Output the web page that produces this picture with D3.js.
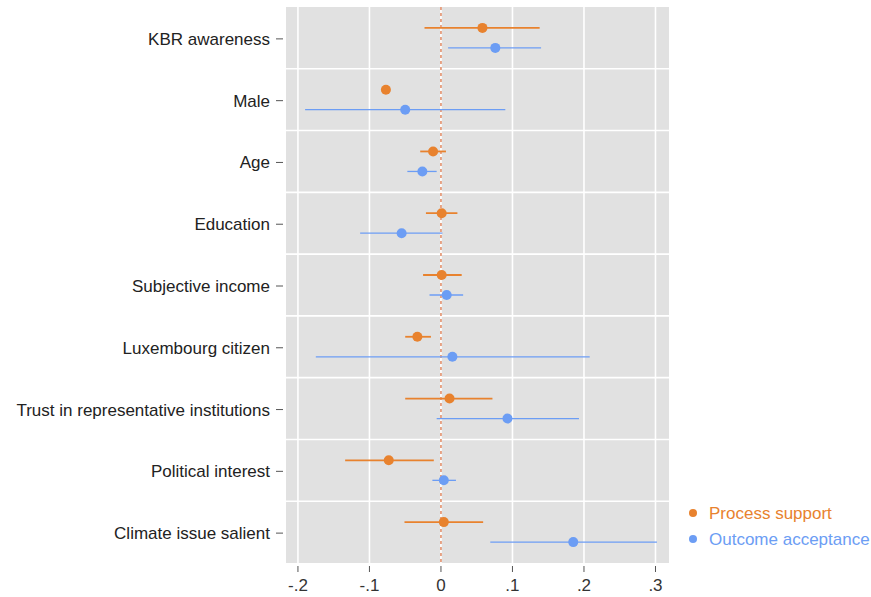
<!DOCTYPE html>
<html><head><meta charset="utf-8">
<script src="https://cdn.jsdelivr.net/npm/d3@7"></script>
<style>body{margin:0;background:#fff}svg{display:block}</style>
</head><body><svg id="c" width="871" height="597"></svg>
<script>
const categories = ["KBR awareness","Male","Age","Education","Subjective income","Luxembourg citizen","Trust in representative institutions","Political interest","Climate issue salient"];
const processEst = [0.058,-0.077,-0.011,0.001,0.001,-0.033,0.012,-0.073,0.004];
const processLo  = [-0.023,-0.080,-0.029,-0.021,-0.025,-0.050,-0.050,-0.134,-0.051];
const processHi  = [0.138,-0.074,0.007,0.023,0.029,-0.014,0.072,-0.010,0.059];
const outcomeEst = [0.076,-0.050,-0.026,-0.055,0.008,0.016,0.093,0.004,0.185];
const outcomeLo  = [0.010,-0.190,-0.047,-0.113,-0.016,-0.175,-0.006,-0.012,0.069];
const outcomeHi  = [0.140,0.090,-0.006,0.002,0.031,0.208,0.193,0.021,0.302];
const xTicks = [-0.2,-0.1,0,0.1,0.2,0.3];
const xTickLabels = ["-.2","-.1","0",".1",".2",".3"];
const seriesNames = ["Process support","Outcome acceptance"];
const colors = ["#e8822e","#6c9df4"];

const svg = d3.select("#c");
const L=286,R=669,T=7,B=563;
const x = d3.scaleLinear().domain([-0.2167,0.3189]).range([L,R]);
const y = d3.scaleBand().domain(categories).range([T,B]);
const font = "'Liberation Sans', Arial, Helvetica, sans-serif";

svg.append("rect").attr("x",L).attr("y",T).attr("width",R-L).attr("height",B-T).attr("fill","#e1e1e1");
svg.selectAll(".vg").data(xTicks).enter().append("line")
  .attr("x1",d=>x(d)).attr("x2",d=>x(d)).attr("y1",T).attr("y2",B)
  .attr("stroke","#fff").attr("stroke-width",1.6);
svg.selectAll(".hg").data(categories.slice(1)).enter().append("line")
  .attr("x1",L).attr("x2",R).attr("y1",d=>y(d)).attr("y2",d=>y(d))
  .attr("stroke","#fff").attr("stroke-width",1.6);
svg.append("line").attr("x1",x(0)).attr("x2",x(0)).attr("y1",T).attr("y2",B)
  .attr("stroke","#e59c7c").attr("stroke-width",1.8).attr("stroke-dasharray","3,3");

const off = [-10,10];
const series = [[processEst,processLo,processHi],[outcomeEst,outcomeLo,outcomeHi]];
series.forEach((s,si)=>{
  const g = svg.append("g");
  g.selectAll("line").data(categories).enter().append("line")
    .attr("x1",(d,i)=>x(s[1][i])).attr("x2",(d,i)=>x(s[2][i]))
    .attr("y1",d=>y(d)+y.bandwidth()/2+off[si]).attr("y2",d=>y(d)+y.bandwidth()/2+off[si])
    .attr("stroke",colors[si]).attr("stroke-width",si===0?1.8:1.3);
  g.selectAll("circle").data(categories).enter().append("circle")
    .attr("cx",(d,i)=>x(s[0][i])).attr("cy",d=>y(d)+y.bandwidth()/2+off[si])
    .attr("r",5).attr("fill",colors[si]);
});

const yg = svg.append("g");
categories.forEach(c=>{
  const cy = y(c)+y.bandwidth()/2+1;
  yg.append("line").attr("x1",276).attr("x2",283).attr("y1",cy).attr("y2",cy).attr("stroke","#555").attr("stroke-width",1);
  yg.append("text").attr("x",270).attr("y",cy).attr("dy","0.35em").attr("text-anchor","end")
    .attr("font-family",font).attr("font-size",17).attr("fill","#222").text(c);
});
const xg = svg.append("g");
xTicks.forEach((t,i)=>{
  xg.append("line").attr("x1",x(t)).attr("x2",x(t)).attr("y1",566).attr("y2",572).attr("stroke","#555");
  xg.append("text").attr("x",x(t)).attr("y",591).attr("text-anchor","middle")
    .attr("font-family",font).attr("font-size",17).attr("fill","#333").text(xTickLabels[i]);
});
seriesNames.forEach((n,i)=>{
  const ly = 513+i*26;
  svg.append("circle").attr("cx",693).attr("cy",ly).attr("r",4).attr("fill",colors[i]);
  svg.append("text").attr("x",709).attr("y",ly).attr("dy","0.35em")
    .attr("font-family",font).attr("font-size",17).attr("fill",colors[i]).text(n);
});
</script></body></html>
